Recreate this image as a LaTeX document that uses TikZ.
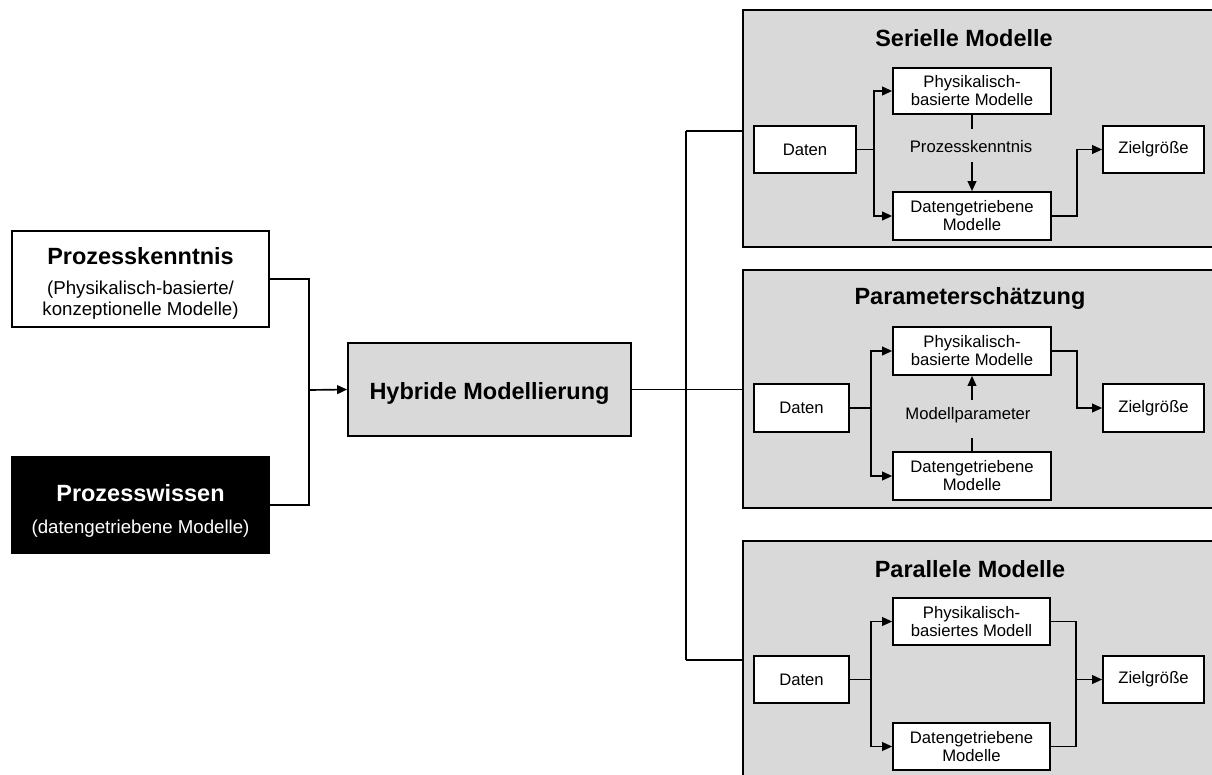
\documentclass[tikz,border=0pt]{standalone}
\usepackage{fontspec}
\setmainfont{Liberation Sans}
\usetikzlibrary{arrows.meta}
\definecolor{panelgray}{HTML}{D9D9D9}
\begin{document}
\begin{tikzpicture}[x=0.75pt,y=-0.75pt,
  wh/.style 2 args={minimum width=#1*0.75pt, minimum height=#2*0.75pt},
  box/.style={draw=black, line width=1.25pt, fill=white, inner sep=0pt, align=center,
              font=\fontsize{12.5}{13.5}\selectfont},
  panel/.style={draw=black, line width=1.3pt, fill=panelgray, inner sep=0pt},
  heading/.style={font=\fontsize{17.6}{20}\selectfont\bfseries, inner sep=0pt, anchor=base},
  subtext/.style={font=\fontsize{14}{16}\selectfont, inner sep=0pt, anchor=base},
  lbl/.style={font=\fontsize{12.5}{13.5}\selectfont, inner sep=0pt},
  conn/.style={line width=1.25pt},
  arr/.style={line width=1.25pt, -{Triangle[length=7.5pt,width=6.5pt]}}]
\useasboundingbox (0,0) rectangle (1212,774);
\clip (0,0) rectangle (1212,774);

% inputs on the left
\node[box, wh={257}{96}] (pk) at (140.5,279) {};
\node[heading] (pkT) at (140.5,264) {Prozesskenntnis};
\node[subtext] (pkA) at (140.5,294) {(Physikalisch-basierte/};
\node[subtext] (pkB) at (140.5,315) {konzeptionelle Modelle)};

\node[box, fill=black, wh={257}{96}] (pw) at (140.5,505) {};
\node[heading, text=white] (pwT) at (140.5,501) {Prozesswissen};
\node[subtext, text=white] (pwA) at (140.5,533) {(datengetriebene Modelle)};

% central box
\node[box, fill=panelgray, wh={283}{93}] (hy) at (489.5,389.5) {};
\node[heading] (hyT) at (489.5,399) {Hybride Modellierung};

\coordinate (jl) at (309,390);
\draw[conn] (pk.east) -| (jl);
\draw[conn] (pw.east) -| (jl);
\draw[arr] (jl) -- (hy.west);

% three variants
\node[panel, wh={487}{237}] (pT) at (986.5,128.5) {};
\node[panel, wh={487}{238}] (pM) at (986.5,389) {};
\node[panel, wh={487}{259}] (pB) at (986.5,670.5) {};

\coordinate (bT) at (686,131);
\coordinate (bB) at (686,660);
\draw[conn] (hy.east) -- (hy.east -| pM.west);
\draw[conn] (bT) -- (bB);
\draw[conn] (bT) -- (bT -| pT.west);
\draw[conn] (bB) -- (bB -| pB.west);

% serial models
\node[heading] (tT) at (964,47) {Serielle Modelle};
\node[box, wh={102}{47}] (dT) at (805,149.5) {Daten};
\node[box, wh={158}{46}] (phT) at (972,91) {Physikalisch-\\basierte Modelle};
\node[box, wh={158}{48}] (dgT) at (972,216) {Datengetriebene\\Modelle};
\node[box, wh={101}{47}] (zT) at (1153.5,149.5) {Zielgröße};
\node[lbl] (lT) at (971,147) {Prozesskenntnis};
\coordinate (sT) at (874,149.5);
\coordinate (jT) at (1077,149.5);
\coordinate (aT) at (972,129);
\coordinate (cT) at (972,162);
\draw[conn] (dT.east) -- (sT);
\draw[arr] (sT) |- (phT.west);
\draw[arr] (sT) |- (dgT.west);
\draw[arr] (dgT.east) -| (jT) -- (zT.west);
\draw[conn] (phT.south) -- (aT);
\draw[arr] (cT) -- (dgT.north);

% parameter estimation
\node[heading] (tM) at (970,304) {Parameterschätzung};
\node[box, wh={95}{48}] (dM) at (801.5,408) {Daten};
\node[box, wh={158}{48}] (phM) at (972,351) {Physikalisch-\\basierte Modelle};
\node[box, wh={158}{48}] (dgM) at (972,476) {Datengetriebene\\Modelle};
\node[box, wh={101}{48}] (zM) at (1153.5,408) {Zielgröße};
\node[lbl] (lM) at (968,415) {Modellparameter};
\coordinate (sM) at (871,408);
\coordinate (jM) at (1077,408);
\coordinate (aM) at (972,438);
\coordinate (cM) at (972,400);
\draw[conn] (dM.east) -- (sM);
\draw[arr] (sM) |- (phM.west);
\draw[arr] (sM) |- (dgM.west);
\draw[arr] (phM.east) -| (jM) -- (zM.west);
\draw[conn] (dgM.north) -- (aM);
\draw[arr] (cM) -- (phM.south);

% parallel models
\node[heading] (tB) at (970,577) {Parallele Modelle};
\node[box, wh={95}{47}] (dB) at (801.5,679.5) {Daten};
\node[box, wh={157}{47}] (phB) at (971.5,621.5) {Physikalisch-\\basiertes Modell};
\node[box, wh={157}{47}] (dgB) at (971.5,746.5) {Datengetriebene\\Modelle};
\node[box, wh={101}{47}] (zB) at (1153.5,679.5) {Zielgröße};
\coordinate (sB) at (871,679.5);
\coordinate (jB) at (1076,679.5);
\draw[conn] (dB.east) -- (sB);
\draw[arr] (sB) |- (phB.west);
\draw[arr] (sB) |- (dgB.west);
\draw[conn] (phB.east) -| (jB);
\draw[conn] (dgB.east) -| (jB);
\draw[arr] (jB) -- (zB.west);
\end{tikzpicture}
\end{document}
